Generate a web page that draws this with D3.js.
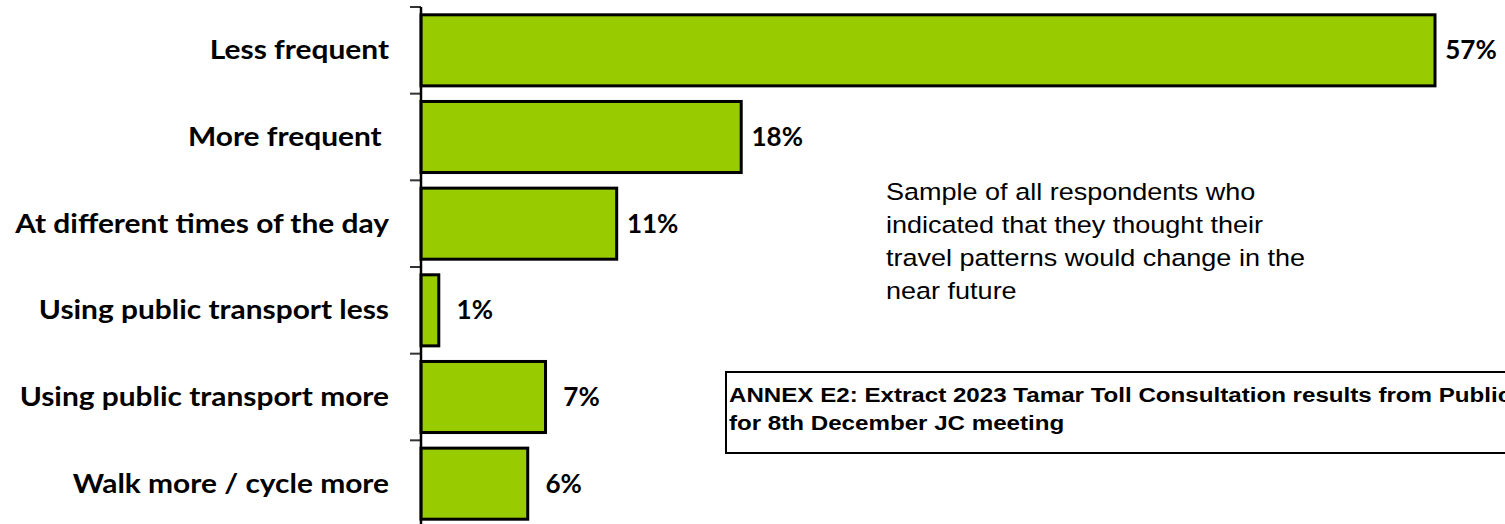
<!DOCTYPE html>
<html lang="en">
<head>
<meta charset="UTF-8">
<title>Travel pattern change</title>
<script src="https://d3js.org/d3.v7.min.js"></script>
<style>
  body { margin: 0; background: #fff; }
  svg { display: block; }
  .cat { font-family: Lato, "Open Sans", sans-serif; font-weight: bold; font-size: 26px; fill: #000; white-space: pre; }
  .val { font-family: Lato, "Open Sans", sans-serif; font-weight: bold; font-size: 26px; fill: #000; }
  .note { font-family: "Liberation Sans", Arial, sans-serif; font-size: 23.5px; fill: #000; }
  .annex { font-family: "Liberation Sans", Arial, sans-serif; font-weight: bold; font-size: 21px; fill: #000; }
</style>
</head>
<body>
<svg id="chart" width="1505" height="524"></svg>
<script>
// data
var categories = ["Less frequent", "More frequent ", "At different times of the day",
                  "Using public transport less", "Using public transport more", "Walk more / cycle more"];
var values = [57, 18, 11, 1, 7, 6];
var valueLabels = ["57%", "18%", "11%", "1%", "7%", "6%"];
var noteLines = ["Sample of all respondents who", "indicated that they thought their",
                 "travel patterns would change in the", "near future"];
var annexLines = ["ANNEX E2: Extract 2023 Tamar Toll Consultation results from Public",
                  "for 8th December JC meeting"];

var svg = d3.select("#chart");
var green = "#99cc00";
var stretch = 1.15; // the source picture is a bit wider than tall

var y = d3.scaleBand().domain(categories).range([7, 527]).paddingInner(0.18).paddingOuter(0.09);
var x = d3.scaleLinear().domain([0, d3.max(values)]).range([421, 1435]);
var step = y.step();

// tick marks between categories (excel style)
var bounds = categories.map(function (c) { return y(c) - step * 0.09; });
bounds.push(bounds[bounds.length - 1] + step);
svg.append("g").selectAll("line")
  .data(bounds).enter().append("line")
  .attr("x1", 410).attr("x2", 421)
  .attr("y1", function (d) { return d; }).attr("y2", function (d) { return d; })
  .attr("stroke", "#333").attr("stroke-width", 2);

// bars
svg.append("g").selectAll("rect")
  .data(values).enter().append("rect")
  .attr("x", x(0))
  .attr("y", function (d, i) { return y(categories[i]); })
  .attr("width", function (d) { return x(d) - x(0); })
  .attr("height", y.bandwidth())
  .attr("fill", green)
  .attr("stroke", "#000").attr("stroke-width", 3);

// axis line
svg.append("line")
  .attr("x1", 421).attr("x2", 421).attr("y1", bounds[0]).attr("y2", 527)
  .attr("stroke", "#000").attr("stroke-width", 2.5);

// category labels
svg.append("g").selectAll("text")
  .data(categories).enter().append("text")
  .attr("class", "cat")
  .attr("transform", function (d) {
    return "translate(389," + (y(d) + y.bandwidth() / 2 + 9) + ") scale(" + stretch + ",1)";
  })
  .attr("text-anchor", "end")
  .text(function (d) { return d; });

// value labels
svg.append("g").selectAll("text")
  .data(values).enter().append("text")
  .attr("class", "val")
  .attr("x", function (d) { return x(d) + 36; })
  .attr("y", function (d, i) { return y(categories[i]) + y.bandwidth() / 2 + 9; })
  .attr("text-anchor", "middle")
  .text(function (d, i) { return valueLabels[i]; });

// note
svg.append("g").attr("transform", "translate(886,0) scale(" + stretch + ",1)")
  .selectAll("text")
  .data(noteLines).enter().append("text")
  .attr("class", "note")
  .attr("x", 0)
  .attr("y", function (d, i) { return 200 + i * 33; })
  .text(function (d) { return d; });

// annex box
svg.append("rect")
  .attr("x", 726).attr("y", 372).attr("width", 800).attr("height", 81)
  .attr("fill", "#fff").attr("stroke", "#000").attr("stroke-width", 2);
svg.append("g").attr("transform", "translate(729,0) scale(" + stretch + ",1)")
  .selectAll("text")
  .data(annexLines).enter().append("text")
  .attr("class", "annex")
  .attr("x", 0)
  .attr("y", function (d, i) { return 402 + i * 28; })
  .text(function (d) { return d; });
</script>
</body>
</html>
